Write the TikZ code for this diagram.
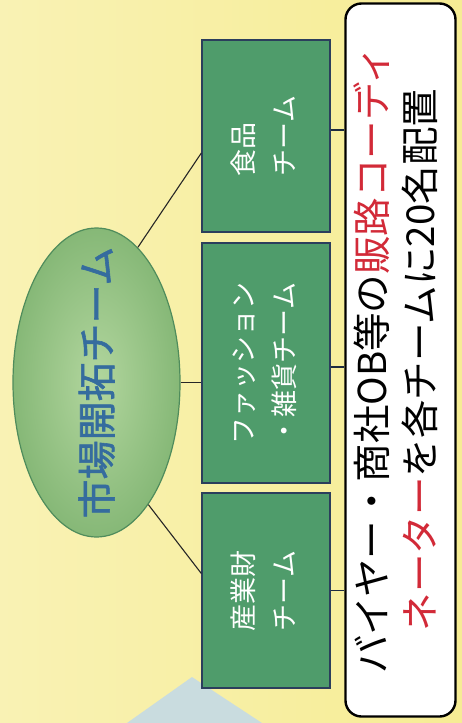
\documentclass[tikz,border=0pt]{standalone}
\usepackage{fontspec}
\usepackage{graphicx}
\setmainfont{Noto Sans CJK JP}
\usetikzlibrary{shapes.geometric,calc}
\definecolor{bgl}{HTML}{F9F2B4}
\definecolor{bgr}{HTML}{F6EC94}
\definecolor{paleblue}{HTML}{C9DCDF}
\definecolor{teamfill}{HTML}{4F9C6B}
\definecolor{teamborder}{HTML}{2B3E5C}
\definecolor{ellin}{HTML}{B2D69E}
\definecolor{ellout}{HTML}{86B877}
\definecolor{ellborder}{HTML}{4F8C5C}
\definecolor{elltext}{HTML}{356C9E}
\definecolor{notered}{HTML}{D22A38}
\begin{document}
\begin{tikzpicture}[x=1pt,y=-1pt,
  teambox/.style={draw=teamborder, line width=1.3pt, fill=teamfill, minimum width=128pt, inner sep=0pt, text=white, font=\fontsize{27}{41}\selectfont},
  hub/.style={ellipse, draw=ellborder, line width=1.2pt, inner color=ellin, outer color=ellout, minimum width=167pt, minimum height=309pt, inner sep=0pt, text=elltext, font=\fontsize{39}{40}\selectfont},
  note/.style={draw=black, line width=2.4pt, fill=white, rounded corners=16pt, minimum width=110pt, minimum height=713pt, inner sep=0pt, font=\fontsize{38.5}{48}\selectfont},
  link/.style={draw=black!85, line width=1.1pt},
  tick/.style={draw=teamborder!70!black, line width=1.4pt}]
\useasboundingbox (0,0) rectangle (462,723);
\shade[left color=bgl, right color=bgr] (0,0) rectangle (462,723);
\fill[paleblue] (127,723) -- (192,677) -- (262,723) -- cycle;

\node[hub] (hub) at (96.5,382.5) {\rotatebox{90}{\makebox[0pt]{\addfontfeature{FakeBold=1.5}市場開拓チーム}}};

\node[teambox, minimum height=192pt] (food) at (266,136)
  {\rotatebox{90}{\begin{tabular}{@{}l@{}}食品\\チーム\end{tabular}}};
\node[teambox, minimum height=240pt] (fashion) at (266,363)
  {\rotatebox{90}{\begin{tabular}{@{}l@{}}ファッション\\・雑貨チーム\end{tabular}}};
\node[teambox, minimum height=195pt] (industry) at (266,590.5)
  {\rotatebox{90}{\begin{tabular}{@{}l@{}}産業財\\チーム\end{tabular}}};

\node[note] (note) at (400.5,360)
  {\rotatebox{90}{\begin{tabular}{@{}c@{}}バイヤー・商社OB等の\textcolor{notered}{販路コーディ}\\\textcolor{notered}{ネーター}を各チームに20名配置\end{tabular}}};

\draw[link] (hub.73) -- ([yshift=-17pt]food.west);
\draw[link] (hub.east) -- (hub.east -| fashion.west);
\draw[link] (hub.-67) -- ([yshift=17pt]industry.west);

\draw[tick] ([yshift=6pt]food.east) -- ([yshift=6pt]food.east -| note.west);
\draw[tick] ([yshift=-4pt]fashion.east) -- ([yshift=-4pt]fashion.east -| note.west);
\draw[tick] (industry.east) -- (industry.east -| note.west);
\end{tikzpicture}
\end{document}
